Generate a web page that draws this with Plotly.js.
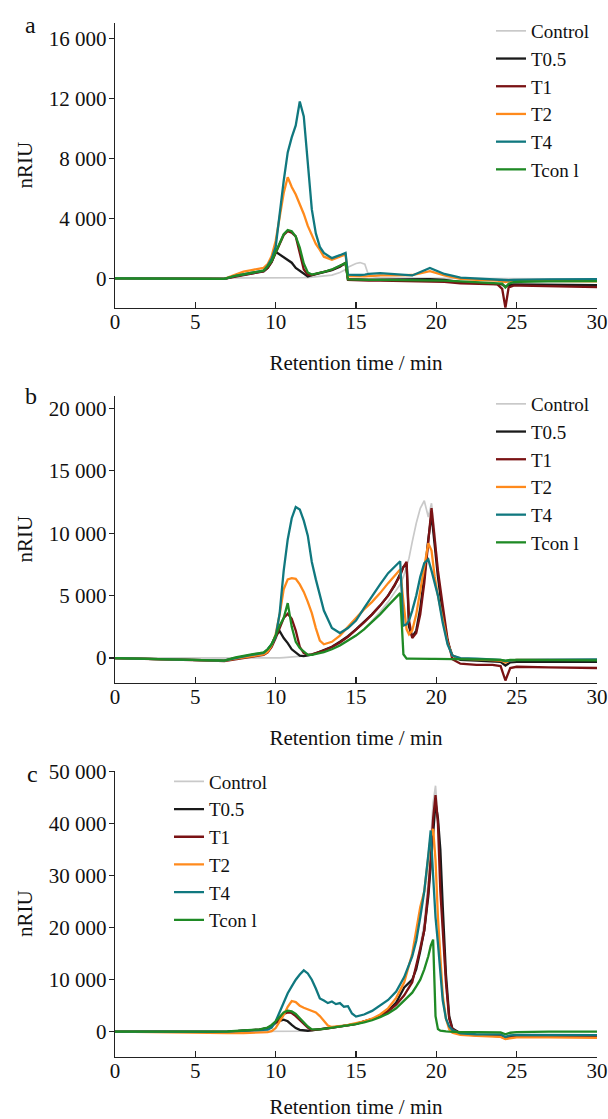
<!DOCTYPE html>
<html>
<head>
<meta charset="utf-8">
<script src="https://cdn.plot.ly/plotly-3.0.1.min.js"></script>
<style>html,body{margin:0;padding:0;background:#fff;}#chart{width:608px;height:1119px;}</style>
</head>
<body>
<div id="chart"></div>
<script>
// ---------- series names / colours ----------
const seriesNames = ['Control', 'T0.5', 'T1', 'T2', 'T4', 'Tcon l'];
const seriesColors = ['#c9c9c9', '#1a1a1a', '#7a1214', '#ff8a1c', '#10787f', '#1f8a25'];

// ---------- panel a ----------
const a_time = [0,2,4,6,6.8, 7.5,8,8.5,9,9.25, 9.5,9.75,10,10.25,10.5, 10.75,11,11.25,11.5,11.75, 12,12.25,12.5,12.75,13, 13.5,14,14.35,14.5,15, 15.25,15.55,15.8,16.5,17.5, 18.5,19.6,20.5,21.5,22.5, 23.8,24.1,24.3,24.5,24.8, 25.2,27,30];
const a_control = [0,0,0,0,0, 0,0,0,0,0, 0,0,0,0,0, 10,20,30,40,50, 60,80,100,120,150, 220,400,600,750,1000, 1060,950,150,50,30, 20,30,30,0,-20, -30,-30,-40,-40,-30, -30,-20,-20];
const a_t05 = [0,0,-30,-40,-30, 150,250,330,420,480, 700,1100,1780,1600,1420, 1250,1050,700,500,300, 130,220,280,340,400, 550,780,1050,-50,-80, -80,-80,-80,-80,-60, -50,-50,-100,-250,-300, -350,-400,-550,-450,-400, -400,-400,-450];
const a_t1 = [0,0,-30,-40,-30, 120,220,300,400,470, 700,1100,1700,2350,2900, 3150,3050,2800,1700,600, 250,230,300,360,420, 580,830,1020,-100,-130, -130,-130,-140,-150,-170, -180,-180,-220,-320,-360, -400,-700,-1950,-600,-480, -480,-520,-580];
const a_t2 = [0,0,-30,-40,-30, 250,450,560,650,700, 950,1500,2500,4000,5700, 6750,6100,5600,5000,4300, 3500,2900,2300,1900,1450, 1250,1450,1600,150,130, 130,140,150,200,200, 230,480,200,-20,-100, -150,-200,-250,-200,-150, -150,-150,-200];
const a_t4 = [0,0,-30,-40,-30, 180,270,340,430,520, 850,1300,2100,4400,6500, 8400,9400,10200,11800,10800, 7800,4600,3000,2100,1700, 1350,1550,1700,250,220, 230,260,300,350,250, 200,700,300,50,-20, -80,-100,-150,-120,-90, -80,-60,-50];
const a_tcon = [0,0,-30,-40,-30, 180,270,340,430,520, 800,1150,1750,2400,2950, 3230,3150,2800,2050,1000, 400,260,310,370,430, 600,850,1030,-60,-90, -90,-90,-90,-90,-100, -120,-120,-150,-200,-250, -300,-350,-600,-350,-250, -220,-200,-180];
const a_tickVals = [0, 4000, 8000, 12000, 16000];
const a_tickText = ['0', '4 000', '8 000', '12 000', '16 000'];

// ---------- panel b ----------
const b_time = [0,2,4,6,6.8, 7.5,8,8.5,9,9.25, 9.5,9.75,10,10.25,10.5, 10.75,11,11.25,11.5,11.75, 12,12.25,12.5,12.75,13, 13.5,14,14.5,15,15.5, 16,16.5,17,17.4,17.75, 17.95,18.15,18.3,18.5,18.75, 19,19.25,19.5,19.7,19.9, 20.1,20.4,20.7,21,21.5, 22.5,23.5,24,24.3,24.6, 25,27,30];
const b_control = [0,0,0,-20,-30, -20,-10,0,0,0, 0,0,0,20,40, 60,80,100,130,160, 200,260,330,420,520, 750,1050,1400,1800,2300, 3000,3700,4500,5200,5900, 6500,7300,8000,9300,10800, 12000,12600,11300,12400,10000, 7000,3500,1200,200,-50, -100,-100,-150,-200,-150, -150,-150,-150];
const b_t05 = [0,-50,-100,-150,-200, 0,100,200,300,350, 600,1100,1800,2150,1600, 1200,700,450,200,150, 200,280,380,500,620, 900,1300,1750,2300,2900, 3500,4200,5000,5800,6700, 7300,7500,2500,1700,2200, 4000,6500,9500,11500,9000, 6500,3500,1300,200,-150, -200,-250,-300,-600,-350, -300,-300,-300];
const b_t1 = [0,-50,-100,-200,-250, -100,0,100,200,250, 450,900,1600,2400,3200, 3550,3150,2200,900,400, 250,300,380,480,600, 880,1250,1700,2250,2850, 3500,4200,5000,5800,6600, 7300,7700,3000,1600,2000, 3500,6000,9500,12000,9500, 7000,4200,1500,-100,-450, -550,-550,-650,-1800,-800, -700,-750,-800];
const b_t2 = [0,-50,-100,-150,-200, -50,50,150,250,300, 500,1000,1900,3500,5500, 6300,6400,6350,5900,5300, 4500,3600,2400,1400,1100, 1300,1800,2500,3200,3900, 4500,5200,6000,6600,7100, 4500,2300,1900,2200,3500, 5500,7500,9200,8600,6500, 5000,3000,1200,200,-50, -100,-150,-200,-350,-200, -150,-150,-150];
const b_t4 = [0,-50,-100,-150,-200, 0,150,250,350,400, 700,1100,1700,3600,7000, 9500,11200,12100,11900,11000, 9800,7700,6300,5100,3800, 2400,2000,2400,3000,4000, 5000,5900,6800,7300,7750, 2600,2700,3000,3800,5000, 6500,7600,7900,7000,6000, 5000,2800,1100,200,0, -50,-100,-150,-250,-200, -150,-120,-100];
const b_tcon = [0,-50,-100,-150,-200, 50,200,300,400,450, 700,1100,1800,2600,3200, 4400,2500,1300,800,500, 250,250,320,400,480, 700,1000,1400,1800,2300, 2900,3500,4200,4700,5200, 300,-50,-50,-60,-60, -60,-60,-60,-60,-60, -60,-70,-80,-80,-100, -100,-120,-150,-200,-150, -150,-150,-180];
const b_tickVals = [0, 5000, 10000, 15000, 20000];
const b_tickText = ['0', '5 000', '10 000', '15 000', '20 000'];

// ---------- panel c ----------
const c_time = [0,2,4,6,7, 8,9,9.5,9.75,10, 10.25,10.5,10.75,11,11.25, 11.5,11.75,12,12.25,12.5, 12.75,13,13.25,13.5,13.75, 14,14.25,14.5,14.75,15, 15.5,16,16.5,17,17.5, 18,18.5,18.75,19,19.25, 19.5,19.65,19.8,19.95,20.1, 20.25,20.4,20.6,20.8,21, 21.5,22.5,23.5,24,24.3, 24.6,25,27,30];
const c_control = [0,0,0,0,0, 0,0,0,0,0, 0,0,0,0,20, 50,100,150,250,350, 450,550,650,750,850, 950,1050,1200,1350,1500, 1900,2400,3000,3900,5200, 7000,10000,12500,16500,21000, 29000,36000,44000,47300,41000, 31000,20000,9000,2500,500, -300,-600,-700,-800,-1100, -900,-800,-800,-800];
const c_t05 = [0,-50,-100,-100,-50, 200,400,700,1100,1700, 2100,2300,2000,1300,700, 350,200,180,250,350, 450,550,650,750,850, 950,1050,1200,1350,1500, 1900,2400,3000,4000,5600, 8500,10000,12000,15500,19500, 26000,32000,39000,44000,41000, 35000,24000,11000,3000,600, -300,-600,-700,-800,-1200, -1000,-800,-850,-900];
const c_t1 = [0,-50,-100,-100,-50, 200,400,700,1100,1800, 2600,3400,3700,3600,3000, 2200,1500,800,300,350, 450,550,650,750,850, 950,1050,1200,1350,1500, 1900,2400,3000,3900,5200, 7000,9500,12500,16000,19500, 27000,33000,41000,45500,40000, 27000,20000,9500,2500,500, -400,-700,-800,-900,-1300, -1100,-900,-950,-1000];
const c_t2 = [0,-100,-200,-250,-250, -250,-200,-100,100,700, 2000,3200,4800,5900,5700, 5000,4600,4300,4000,3700, 3000,2000,1200,900,950, 1050,1150,1300,1450,1600, 2000,2500,3300,4500,6500, 9500,15000,19500,24000,27000, 33000,37500,39000,33000,22000, 14000,7000,2500,500,-200, -600,-800,-900,-1000,-1400, -1300,-1100,-1100,-1200];
const c_t4 = [0,-50,-50,-50,0, 200,400,400,800,2000, 3800,5600,7400,8700,10000, 11000,11800,11200,10000,8300, 6400,6000,5500,5800,5300, 5500,4800,4900,3500,2900, 3300,4000,5000,6100,7700, 10500,14500,17500,22000,27000, 34000,38700,30000,22000,17000, 11000,6000,2500,1000,300, -300,-500,-500,-500,-1000, -700,-600,-600,-650];
const c_tcon = [0,0,0,0,50, 250,450,800,1300,2000, 2900,3700,4050,3900,3400, 2600,1800,1000,450,400, 450,550,650,750,850, 950,1050,1150,1300,1450, 1800,2200,2800,3500,4500, 6000,7500,8700,10000,12000, 14500,16500,17700,3000,500, 200,100,50,0,-50, -100,-100,-100,-150,-500, -200,-100,0,0];
const c_tickVals = [0, 10000, 20000, 30000, 40000, 50000];
const c_tickText = ['0', '10 000', '20 000', '30 000', '40 000', '50 000'];

const xTickVals = [0, 5, 10, 15, 20, 25, 30];
const panelLetters = ['a', 'b', 'c'];
const xTitle = 'Retention time / min';
const yTitle = 'nRIU';

// ---------- build traces ----------
const FONT = "'Liberation Serif', 'Times New Roman', Times, serif";
const panels = [
  {t: a_time, ys: [a_control, a_t05, a_t1, a_t2, a_t4, a_tcon], xa: 'x', ya: 'y', lg: 'legend'},
  {t: b_time, ys: [b_control, b_t05, b_t1, b_t2, b_t4, b_tcon], xa: 'x2', ya: 'y2', lg: 'legend2'},
  {t: c_time, ys: [c_control, c_t05, c_t1, c_t2, c_t4, c_tcon], xa: 'x3', ya: 'y3', lg: 'legend3'}
];
const traces = [];
panels.forEach(p => {
  p.ys.forEach((y, i) => {
    traces.push({
      type: 'scatter', mode: 'lines', x: p.t, y: y, name: seriesNames[i],
      xaxis: p.xa, yaxis: p.ya, legend: p.lg,
      line: {color: seriesColors[i], width: i === 0 ? 1.7 : 2.3, shape: 'linear'},
      hoverinfo: 'skip'
    });
  });
});

const H = 1119;
const dom = (top, bottom) => [1 - bottom / H, 1 - top / H];
const xCommon = {
  range: [0, 30], tickvals: xTickVals, ticks: 'inside', ticklen: 6, tickwidth: 1.3, tickcolor: '#222',
  showline: true, linecolor: '#222', linewidth: 1.3, showgrid: false, zeroline: false,
  ticklabelstandoff: -5,
  tickfont: {family: FONT, size: 21, color: '#111'},
  title: {text: xTitle, font: {family: FONT, size: 21, color: '#111'}, standoff: 22}
};
const yCommon = {
  ticks: 'outside', ticklen: 5, tickwidth: 1.3, tickcolor: '#222',
  showline: true, linecolor: '#222', linewidth: 1.3, showgrid: false, zeroline: false,
  ticklabelstandoff: -2,
  tickfont: {family: FONT, size: 21, color: '#111'},
  title: {text: yTitle, font: {family: FONT, size: 21, color: '#111'}, standoff: 10}
};
const legCommon = {xanchor: 'left', yanchor: 'top', bgcolor: 'rgba(0,0,0,0)', borderwidth: 0,
  font: {family: FONT, size: 19, color: '#111'}, itemwidth: 30, tracegroupgap: 0};

const layout = {
  width: 608, height: 1119,
  margin: {l: 115, r: 11, t: 0, b: 0},
  paper_bgcolor: '#fff', plot_bgcolor: '#fff',
  font: {family: FONT, size: 21, color: '#111'},
  showlegend: true,
  xaxis: Object.assign({}, xCommon, {anchor: 'y'}),
  xaxis2: Object.assign({}, xCommon, {anchor: 'y2'}),
  xaxis3: Object.assign({}, xCommon, {anchor: 'y3'}),
  yaxis: Object.assign({}, yCommon, {anchor: 'x', domain: dom(22.7, 307.7), range: [-1950, 17050], tickvals: a_tickVals, ticktext: a_tickText}),
  yaxis2: Object.assign({}, yCommon, {anchor: 'x2', domain: dom(396, 682.5), range: [-1960, 20990], tickvals: b_tickVals, ticktext: b_tickText}),
  yaxis3: Object.assign({}, yCommon, {anchor: 'x3', domain: dom(770.7, 1056.7), range: [-4810, 50190], tickvals: c_tickVals, ticktext: c_tickText}),
  legend: Object.assign({}, legCommon, {x: (491 - 115) / 482, y: 1 - 12 / H}),
  legend2: Object.assign({}, legCommon, {x: (491 - 115) / 482, y: 1 - 385 / H}),
  legend3: Object.assign({}, legCommon, {x: (169 - 115) / 482, y: 1 - 762.5 / H}),
  annotations: [
    {text: panelLetters[0], x: (30.5 - 115) / 482, y: 1 - 25 / H},
    {text: panelLetters[1], x: (31 - 115) / 482, y: 1 - 396 / H},
    {text: panelLetters[2], x: (32 - 115) / 482, y: 1 - 774 / H}
  ].map(a => Object.assign(a, {xref: 'paper', yref: 'paper', xanchor: 'center', yanchor: 'middle', showarrow: false,
    font: {family: FONT, size: 24, color: '#111'}}))
};

Plotly.newPlot('chart', traces, layout, {displayModeBar: false, staticPlot: true});
</script>
</body>
</html>
